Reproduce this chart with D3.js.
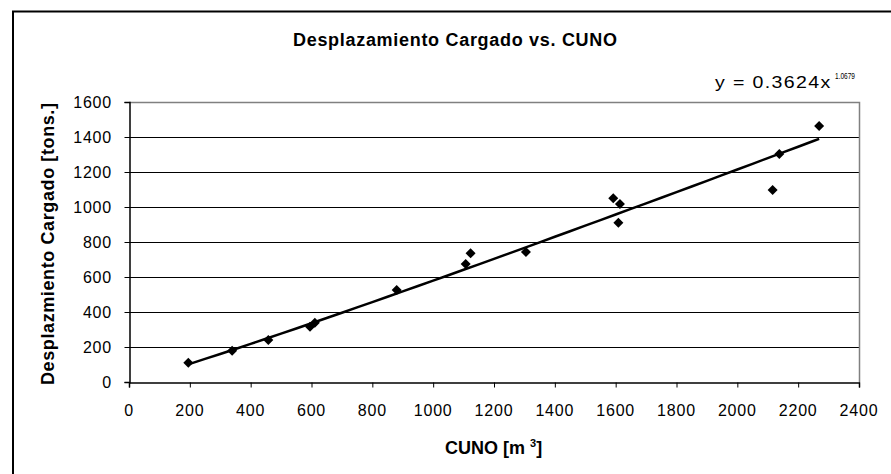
<!DOCTYPE html>
<html>
<head>
<meta charset="utf-8">
<script src="https://cdn.jsdelivr.net/npm/d3@7"></script>
<style>
  html, body { margin: 0; padding: 0; background: #fff; }
  svg { display: block; }
  text { font-family: "Liberation Sans", Arial, sans-serif; fill: #000; }
</style>
</head>
<body>
<div id="chart"></div>
<script>
// datos
var cuno   = [195, 339, 458, 595, 611, 880, 1107, 1123, 1305, 1592, 1614, 1609, 2116, 2138, 2269];
var despl  = [110, 179, 240, 316, 339, 526, 674, 735, 743, 1050, 1017, 910, 1097, 1303, 1463];
var xTicks = [0, 200, 400, 600, 800, 1000, 1200, 1400, 1600, 1800, 2000, 2200, 2400];
var yTicks = [0, 200, 400, 600, 800, 1000, 1200, 1400, 1600];

// linea de tendencia potencial  y = a * x^b
var trendA = 0.3624;
var trendB = 1.0679;

var width  = 891;
var height = 474;

var svg = d3.select("#chart").append("svg")
  .attr("width", width)
  .attr("height", height);

// marco exterior
svg.append("rect")
  .attr("x", 13).attr("y", 11.5)
  .attr("width", 900).attr("height", 480)
  .attr("fill", "none")
  .attr("stroke", "#000")
  .attr("stroke-width", 2);

var x = d3.scaleLinear().domain([0, 2400]).range([129, 859]);
var y = d3.scaleLinear().domain([0, 1600]).range([382, 102]);

// grilla
svg.append("g").selectAll("line")
  .data(yTicks.filter(function (d) { return d > 0 && d < 1600; }))
  .enter().append("line")
  .attr("x1", x(0)).attr("x2", x(2400))
  .attr("y1", function (d) { return Math.round(y(d)) + 0.5; })
  .attr("y2", function (d) { return Math.round(y(d)) + 0.5; })
  .attr("stroke", "#000")
  .attr("stroke-width", 1);

// borde gris del area del grafico (arriba y derecha)
svg.append("path")
  .attr("d", "M" + x(0) + "," + (Math.round(y(1600)) + 0.5) +
             "H" + (Math.round(x(2400)) + 0.5) +
             "V" + y(0))
  .attr("fill", "none")
  .attr("stroke", "#808080")
  .attr("stroke-width", 1.5);

// ejes
var xAxis = d3.axisBottom(x).tickValues(xTicks).tickSize(5).tickFormat("");
var yAxis = d3.axisLeft(y).tickValues(yTicks).tickSize(5).tickFormat("");

var gx = svg.append("g").attr("transform", "translate(0," + (Math.round(y(0)) + 0.5) + ")").call(xAxis);
var gy = svg.append("g").attr("transform", "translate(" + (Math.round(x(0)) + 0.5) + ",0)").call(yAxis);

[gx, gy].forEach(function (g) {
  g.select(".domain").attr("stroke", "#000").attr("stroke-width", 1.5);
  g.selectAll(".tick line").attr("stroke", "#000").attr("stroke-width", 1);
});

// etiquetas de los ejes
svg.append("g").selectAll("text")
  .data(xTicks)
  .enter().append("text")
  .attr("x", function (d) { return x(d); })
  .attr("y", 416)
  .attr("text-anchor", "middle")
  .style("font-size", "16px")
  .style("letter-spacing", "0.8px")
  .text(function (d) { return d; });

svg.append("g").selectAll("text")
  .data(yTicks)
  .enter().append("text")
  .attr("x", 112)
  .attr("y", function (d) { return y(d) + 5.5; })
  .attr("text-anchor", "end")
  .style("font-size", "16px")
  .style("letter-spacing", "0.8px")
  .text(function (d) { return d; });

// titulo
svg.append("text")
  .attr("x", 293).attr("y", 46)
  .attr("textLength", 324)
  .attr("lengthAdjust", "spacing")
  .style("font-size", "18px")
  .style("font-weight", "bold")
  .text("Desplazamiento Cargado vs. CUNO");

// titulo eje y
svg.append("text")
  .attr("transform", "translate(54,385) rotate(-90)")
  .attr("textLength", 282)
  .attr("lengthAdjust", "spacing")
  .style("font-size", "18px")
  .style("font-weight", "bold")
  .text("Desplazmiento Cargado [tons.]");

// titulo eje x
var xt = svg.append("text")
  .attr("x", 445).attr("y", 454)
  .style("font-size", "18px")
  .style("font-weight", "bold");
xt.append("tspan").text("CUNO [m ");
xt.append("tspan").attr("dy", -7).style("font-size", "11px").text("3");
xt.append("tspan").attr("dy", 7).text("]");

// ecuacion de la tendencia
svg.append("text")
  .attr("transform", "translate(715,88) scale(1.15,1)")
  .style("font-size", "17px")
  .style("letter-spacing", "1.2px")
  .text("y = " + trendA + "x");
svg.append("text")
  .attr("x", 835).attr("y", 79)
  .attr("textLength", 20)
  .attr("lengthAdjust", "spacingAndGlyphs")
  .style("font-size", "9px")
  .text(trendB);

// curva de tendencia
var xMin = d3.min(cuno), xMax = d3.max(cuno);
var trendX = d3.ticks(xMin, xMax, 60);
trendX.unshift(xMin);
trendX.push(xMax);

var line = d3.line()
  .x(function (d) { return x(d); })
  .y(function (d) { return y(trendA * Math.pow(d, trendB)); });

svg.append("path")
  .datum(trendX)
  .attr("d", line)
  .attr("fill", "none")
  .attr("stroke", "#000")
  .attr("stroke-width", 2.5)
  .attr("stroke-linejoin", "round");

// puntos
var diamond = d3.symbol().type(d3.symbolSquare).size(50);

svg.append("g").selectAll("path")
  .data(cuno)
  .enter().append("path")
  .attr("d", diamond)
  .attr("transform", function (d, i) {
    return "translate(" + x(d) + "," + y(despl[i]) + ") rotate(45)";
  })
  .attr("fill", "#000");
</script>
</body>
</html>
